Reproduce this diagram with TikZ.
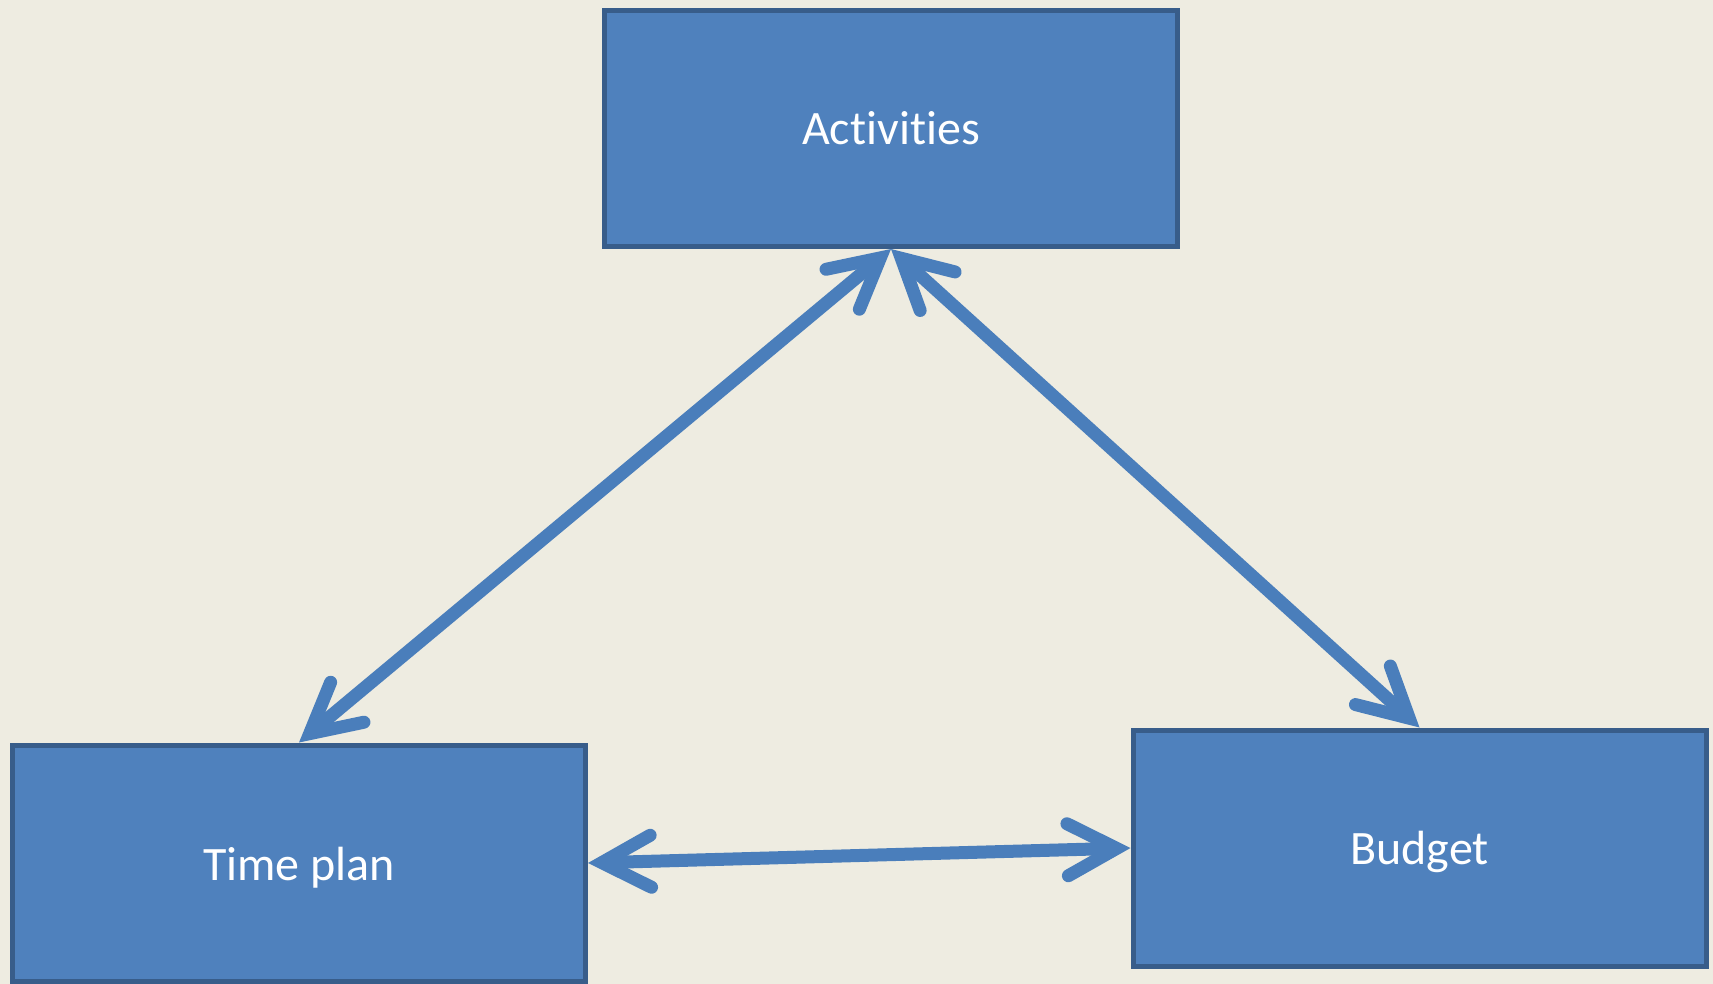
\documentclass[tikz,border=0pt]{standalone}
\usepackage{fontspec}
\setmainfont{Carlito}[RawFeature={-liga}]
\usetikzlibrary{arrows.meta}
\definecolor{bgc}{HTML}{EEECE1}
\definecolor{boxfill}{HTML}{4F81BD}
\definecolor{boxline}{HTML}{385D8A}
\definecolor{arrc}{HTML}{4A7EBB}
\tikzset{
  block/.style={draw=boxline, fill=boxfill, line width=2.5pt, minimum width=286.5pt, minimum height=118pt, inner sep=0pt, text=white, font=\fontsize{24}{28}\selectfont},
  link/.style={draw=arrc, line width=6.5pt, {Straight Barb[length=24.5pt, width=26pt, line cap=round, line join=miter]}-{Straight Barb[length=24.5pt, width=26pt, line cap=round, line join=miter]}}
}
\begin{document}
\begin{tikzpicture}[x=0.5pt, y=-0.5pt]
\fill[bgc] (0,0) rectangle (1713,984);
\useasboundingbox (0,0) rectangle (1713,984);
\node[block] (act) at (891,128.5) {Activities};
\node[block, text height=21.8pt, text depth=4.8pt] (tp) at (299,863) {Time plan};
\node[block, text height=20.8pt, text depth=4.8pt] (bu) at (1419.5,848) {Budget};
\draw[link] (tp.north) -- (act.south);
\draw[link] (act.south) -- (bu.north);
\draw[link] (tp.east) -- (bu.west);
\end{tikzpicture}
\end{document}
